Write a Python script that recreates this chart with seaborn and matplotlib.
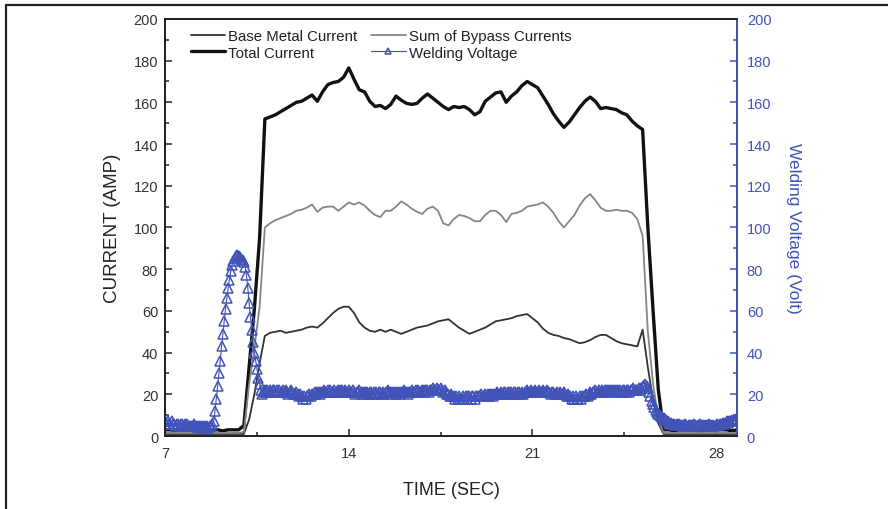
import numpy as np
import pandas as pd
import matplotlib
matplotlib.use("Agg")
import matplotlib.pyplot as plt
from matplotlib.lines import Line2D
from matplotlib.ticker import MultipleLocator
import seaborn as sns

# Current channels, one sample every 0.2 s starting at 7.0 s
current_start, current_step = 7.0, 0.2
base_metal_current = [
    1, 1, 1, 1, 1, 1, 1, 1, 1, 1,
    1, 1, 1, 1, 1, 1, 8, 20, 35, 48,
    49.5, 50, 50.5, 49.5, 50, 50.5, 51, 52, 52.5, 52,
    54, 56.5, 59, 61, 62, 62, 59, 54.5, 52, 50.5,
    50, 51, 50, 51, 50, 49, 50, 51, 52, 52.5,
    53, 54, 55, 55.5, 56, 54, 52, 50.5, 49, 50,
    51, 52, 53.5, 55, 55.5, 56, 56.5, 57.5, 58, 58.5,
    56.5, 54.5, 51.5, 49.5, 48.5, 48, 47, 46.5, 45.5, 44.5,
    45, 46, 47.5, 48.5, 48.5, 47, 45.5, 44.5, 44, 43.5,
    43, 51, 33, 17, 6, 1, 1, 1, 1, 1,
    1, 1, 1, 1, 1, 1, 1, 1, 1, 1,
]
bypass_current_sum = [
    1.5, 1.5, 1.5, 1.5, 1.5, 1.5, 1.5, 1.5, 1.5, 1.5,
    1.5, 1.5, 1.5, 1.5, 1.5, 2, 25, 42, 62, 100,
    102, 103.5, 104.5, 105.5, 106.5, 108, 108.5, 109.5, 111, 107.5,
    109.5, 110, 110, 108, 110, 112, 111, 112, 110.5, 108,
    106, 105, 108, 108, 110, 112.5, 111, 109, 107.5, 106.5,
    109, 110, 108, 102, 101, 104, 106, 105.5, 104.5, 103,
    103, 106, 108, 108, 106, 102.6, 106.5, 107, 108, 110,
    110.5, 111, 112, 110, 107, 103, 100, 103, 106, 110.5,
    114, 116, 113, 109.5, 108, 108, 108.5, 108, 108, 107,
    104, 96, 50, 25, 8, 1.5, 1.5, 1.5, 1.5, 1.5,
    1.5, 1.5, 1.5, 1.5, 1.5, 1.5, 1.5, 1.5, 1.5, 1.5,
]
total_current = [
    3, 3, 2.5, 3, 3.5, 3, 3, 2.5, 3, 3,
    3, 2.5, 3, 3, 3, 5, 33, 61, 95, 152,
    153, 154, 155.5, 157, 158.5, 160, 160.5, 162, 163.5, 160.5,
    165, 168.5, 169.5, 170, 172, 176.5, 171, 166, 165, 160.5,
    158, 158.5, 157, 159, 163, 161, 159.5, 159, 159.5, 162,
    164, 162, 160, 158, 156.5, 158, 157.5, 158, 156.5, 154,
    155.5, 160.5, 162.5, 164.5, 165, 160, 163, 165, 168, 170,
    168.5, 167, 163, 159, 154.5, 151, 148, 150.5, 154, 157.5,
    160.5, 162.5, 160.5, 157, 157.5, 157, 156.5, 155, 154, 151,
    148.7, 147, 100, 60, 22, 3, 3, 2.5, 3, 3,
    3, 3, 2.5, 3, 3, 3.5, 3, 3, 2.5, 3,
]

# Welding voltage, one sample every 0.05 s starting at 7.0 s
voltage_start, voltage_step = 7.0, 0.05
welding_voltage = [
    7, 6, 7, 6, 6, 7, 6, 6, 5, 6, 6, 5, 6, 6, 5, 6, 5, 6, 5, 5,
    5, 5, 6, 5, 5, 4, 5, 5, 4, 5, 5, 4, 5, 4, 5, 5, 6, 7, 12, 18,
    24, 30, 36, 43, 49, 55, 61, 66, 71, 75, 79, 82, 84, 85.5, 86.5, 87, 86.5, 86, 85, 84.5,
    83.5, 81, 77, 71, 64, 57, 51, 45, 40, 36, 32, 28, 25, 22, 20, 21, 22, 21, 22, 21,
    22, 21, 22, 22, 21, 22, 21, 22, 21, 21, 22, 21, 22, 21, 20, 21, 22, 21, 20, 20,
    21, 20, 19, 20, 19, 18, 19, 18, 19, 19, 20, 19, 20, 20, 21, 20, 21, 21, 20, 21,
    21, 22, 21, 21, 22, 21, 22, 21, 21, 22, 21, 21, 22, 22, 21, 22, 21, 22, 21, 21,
    22, 21, 21, 22, 21, 20, 21, 21, 22, 21, 20, 21, 21, 20, 21, 20, 21, 21, 20, 21,
    20, 21, 20, 21, 21, 20, 21, 20, 21, 21, 22, 21, 21, 20, 21, 21, 20, 21, 21, 20,
    21, 21, 22, 21, 21, 20, 21, 21, 22, 21, 21, 22, 21, 22, 21, 21, 22, 22, 21, 22,
    22, 21, 22, 22, 23, 22, 22, 23, 22, 22, 23, 22, 21, 22, 21, 20, 20, 19, 20, 19,
    19, 18, 19, 18, 19, 18, 18, 19, 18, 19, 18, 19, 19, 18, 19, 19, 18, 19, 19, 19,
    19, 20, 19, 19, 20, 19, 20, 19, 20, 20, 19, 20, 20, 21, 20, 20, 21, 20, 21, 21,
    20, 21, 20, 21, 21, 20, 21, 21, 20, 21, 21, 20, 21, 20, 21, 21, 22, 21, 21, 22,
    21, 21, 22, 21, 21, 22, 21, 21, 22, 21, 21, 22, 21, 21, 20, 21, 21, 20, 20, 21,
    20, 21, 20, 20, 21, 20, 19, 20, 19, 19, 18, 19, 18, 19, 18, 18, 19, 18, 19, 19,
    19, 20, 19, 20, 21, 20, 21, 21, 22, 21, 21, 22, 21, 22, 21, 22, 22, 21, 22, 22,
    21, 22, 22, 21, 22, 22, 21, 22, 21, 22, 22, 21, 22, 22, 21, 22, 22, 23, 22, 22,
    22, 23, 22, 23, 24, 24, 25, 24, 23, 21, 19, 17, 15.5, 14, 12.5, 11.5, 10.5, 10, 9.5, 9,
    8.5, 8, 7.5, 7, 6.5, 6, 6.5, 6, 6, 5.5, 6, 5.5, 6, 5.5, 5, 5.5, 6, 5.5, 5, 5.5,
    5.5, 5, 5.5, 6, 5.5, 5, 5.5, 5, 6, 5.5, 5, 5.5, 5.5, 5, 5.5, 6, 5.5, 5, 5.5, 5,
    5.5, 6, 5.5, 6, 6, 6.5, 6, 6.5, 7, 6.5, 7, 7, 7.5, 7, 7.5, 8, 8,
]

x_ticks = [7, 14, 21, 28]
y_ticks = [0, 20, 40, 60, 80, 100, 120, 140, 160, 180, 200]
legend_labels = ["Base Metal Current", "Total Current",
                 "Sum of Bypass Currents", "Welding Voltage"]

currents = pd.DataFrame({
    "time": np.round(current_start + current_step * np.arange(len(total_current)), 2),
    "base": base_metal_current,
    "bypass": bypass_current_sum,
    "total": total_current,
})
voltage = pd.DataFrame({
    "time": np.round(voltage_start + voltage_step * np.arange(len(welding_voltage)), 2),
    "volt": welding_voltage,
})

sns.set_style("ticks")
plt.rcParams["font.family"] = ["Liberation Sans", "DejaVu Sans"]

BLUE = "#4253b8"
TEXT = "#333333"

fig = plt.figure(figsize=(8.88, 5.10), dpi=100)
ax = fig.add_axes([0.186, 0.143, 0.644, 0.818])

sns.lineplot(data=currents, x="time", y="base", ax=ax, color="#333333",
             linewidth=1.3, estimator=None, sort=False)
sns.lineplot(data=currents, x="time", y="total", ax=ax, color="#111111",
             linewidth=2.4, estimator=None, sort=False)
sns.lineplot(data=currents, x="time", y="bypass", ax=ax, color="#858585",
             linewidth=1.3, estimator=None, sort=False)

ax2 = ax.twinx()
sns.lineplot(data=voltage, x="time", y="volt", ax=ax2, color=BLUE,
             linewidth=0.8, marker="^", markersize=7,
             markerfacecolor="none", markeredgecolor=BLUE,
             markeredgewidth=1.1, estimator=None, sort=False)

for a in (ax, ax2):
    a.set_xlim(7, 28.8)
    a.set_ylim(0, 200)
    a.set_yticks(y_ticks)
    a.yaxis.set_minor_locator(MultipleLocator(10))

ax.set_xticks(x_ticks)
ax.xaxis.set_minor_locator(MultipleLocator(3.5))

ax.tick_params(axis="both", which="both", direction="in", top=False,
               right=False, colors="#222222", labelcolor=TEXT,
               labelsize=10.5, width=1.1)
ax.tick_params(axis="both", which="major", length=5)
ax.tick_params(axis="both", which="minor", length=3)
ax.tick_params(axis="y", pad=5)
ax.tick_params(axis="x", pad=7)

ax2.tick_params(axis="y", which="both", direction="in", colors=BLUE,
                labelcolor=BLUE, labelsize=10.5, width=1.1, pad=7)
ax2.tick_params(axis="y", which="major", length=5)
ax2.tick_params(axis="y", which="minor", length=3)

for name, sp in ax.spines.items():
    sp.set_linewidth(1.3)
    sp.set_color("#222222")
for name, sp in ax2.spines.items():
    sp.set_linewidth(1.3)
    sp.set_color("#222222")
ax2.spines["right"].set_color(BLUE)

ax.set_xlabel("TIME (SEC)", fontsize=13, color="#222222", labelpad=15)
ax.set_ylabel("CURRENT (AMP)", fontsize=13.5, color="#222222", labelpad=9)
ax2.set_ylabel("Welding Voltage (Volt)", fontsize=12.5, color=BLUE,
               rotation=270, labelpad=21)

handles = [ax.lines[0], ax.lines[1], ax.lines[2], ax2.lines[0]]
ax.legend(handles, legend_labels, ncol=2, loc="upper left",
          bbox_to_anchor=(0.045, 0.975), frameon=False, fontsize=10.8,
          handlelength=2.3, handletextpad=0.2, columnspacing=0.9,
          labelspacing=0.15, borderpad=0, borderaxespad=0, markerscale=0.7)
for t in ax.get_legend().get_texts():
    t.set_color("#222222")

# frame along the top and left edges of the figure
fig.add_artist(Line2D([5.5 / 888, 5.5 / 888], [0, 1 - 5.5 / 510],
                      transform=fig.transFigure, color="#222222", lw=1.6))
fig.add_artist(Line2D([5.5 / 888, 1], [1 - 5.5 / 510, 1 - 5.5 / 510],
                      transform=fig.transFigure, color="#222222", lw=1.6))

fig.savefig("out.png", dpi=100)
